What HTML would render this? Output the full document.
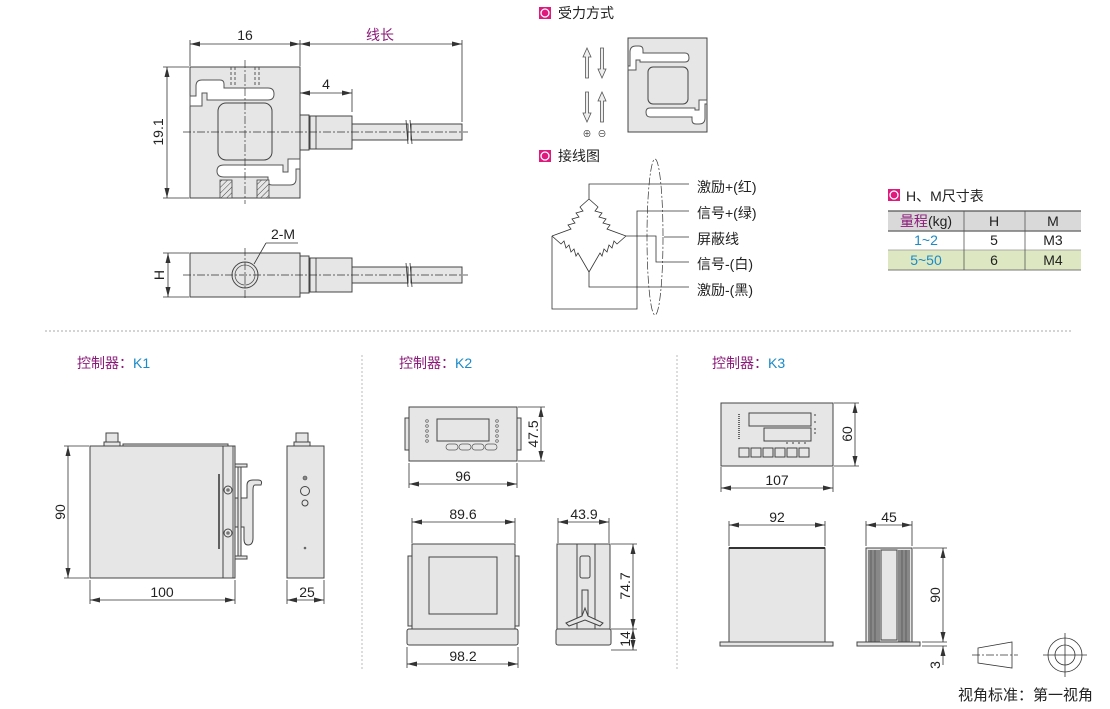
<!DOCTYPE html>
<html><head><meta charset="utf-8"><style>
html,body{margin:0;padding:0;background:#fff;}
svg{display:block;font-family:"Liberation Sans","Noto Sans CJK SC",sans-serif;}
.o{fill:#e6e6e6;stroke:#444;stroke-width:1;}
.w{fill:#fff;stroke:#555;stroke-width:1;}
.l{stroke:#333;stroke-width:0.8;fill:none;}
.c{stroke:#333;stroke-width:0.7;stroke-dasharray:8 2 2 2;fill:none;}
.t{font-size:14px;fill:#222;}
.p{fill:#8b1a7a;}
.b{fill:#1a8ac8;}
</style></head><body>
<svg width="1110" height="709" viewBox="0 0 1110 709" xmlns="http://www.w3.org/2000/svg">
<defs>
<marker id="a" viewBox="0 0 10 6" refX="10" refY="3" markerWidth="10" markerHeight="6" orient="auto-start-reverse" markerUnits="userSpaceOnUse"><path d="M0,0.5 L10,3 L0,5.5 Z" fill="#333"/></marker>
<pattern id="h" width="4" height="4" patternUnits="userSpaceOnUse" patternTransform="rotate(45)"><rect width="4" height="4" fill="#e6e6e6"/><line x1="0" y1="0" x2="0" y2="4" stroke="#444" stroke-width="1"/></pattern>
</defs>

<!-- Load cell top view -->
<rect class="o" x="190" y="67" width="110" height="131"/>
<path class="w" d="M190,106 L202,106 L202,93 L207,93 L207,100 L268,100 Q274,100 274,94 Q274,88 268,88 L224,88 L224,84 Q224,80 220,80 L202,80 Q196,80 196,86 L196,96 L190,96 Z"/>
<path class="w" d="M300,159 L288,159 L288,172 L283,172 L283,165 L224,165 Q217,165 217,171 Q217,177 224,177 L268,177 L268,181 Q268,185 272,185 L290,185 Q296,185 296,179 L296,169 L300,169 Z"/>
<rect class="o" x="218" y="103" width="54" height="57" rx="8"/>
<rect x="220" y="180" width="12" height="18" fill="url(#h)" stroke="#444" stroke-width="0.8"/>
<rect x="257" y="180" width="12" height="18" fill="url(#h)" stroke="#444" stroke-width="0.8"/>
<line x1="231" y1="67" x2="231" y2="87" stroke="#555" stroke-dasharray="3 2"/>
<line x1="235" y1="67" x2="235" y2="87" stroke="#555" stroke-dasharray="3 2"/>
<line x1="255" y1="67" x2="255" y2="87" stroke="#555" stroke-dasharray="3 2"/>
<line x1="259" y1="67" x2="259" y2="87" stroke="#555" stroke-dasharray="3 2"/>
<rect class="o" x="300" y="115" width="9" height="35"/>
<rect class="o" x="310" y="116" width="42" height="33"/>
<line class="l" x1="316" y1="116" x2="316" y2="149"/>
<rect class="o" x="352" y="124" width="56" height="16"/>
<rect class="o" x="411" y="124" width="51" height="16"/>
<line class="l" x1="406" y1="120" x2="408" y2="144"/><line class="l" x1="410" y1="120" x2="412" y2="144"/>
<line class="c" x1="183" y1="132" x2="468" y2="132"/>
<line class="c" x1="245" y1="60" x2="245" y2="204"/>
<!-- dims -->
<line class="l" x1="190" y1="40" x2="190" y2="66"/><line class="l" x1="300" y1="40" x2="300" y2="66"/><line class="l" x1="462" y1="40" x2="462" y2="122"/>
<line class="l" x1="190" y1="44" x2="300" y2="44" marker-start="url(#a)" marker-end="url(#a)"/>
<line class="l" x1="300" y1="44" x2="462" y2="44" marker-start="url(#a)" marker-end="url(#a)"/>
<text class="t" x="245" y="40" text-anchor="middle">16</text>
<text class="t p" x="380" y="40" text-anchor="middle">线长</text>
<line class="l" x1="352" y1="89" x2="352" y2="112"/>
<line class="l" x1="300" y1="93" x2="352" y2="93" marker-start="url(#a)" marker-end="url(#a)"/>
<text class="t" x="326" y="89" text-anchor="middle">4</text>
<line class="l" x1="163" y1="67" x2="189" y2="67"/><line class="l" x1="163" y1="198" x2="189" y2="198"/>
<line class="l" x1="167" y1="67" x2="167" y2="198" marker-start="url(#a)" marker-end="url(#a)"/>
<text class="t" transform="translate(163,132) rotate(-90)" text-anchor="middle">19.1</text>

<!-- side view -->
<rect class="o" x="190" y="253" width="110" height="44"/>
<circle class="o" cx="245" cy="275" r="13"/><circle cx="245" cy="275" r="10" fill="none" stroke="#555" stroke-width="0.8"/>
<rect class="o" x="300" y="256" width="9" height="37"/>
<rect class="o" x="310" y="258" width="42" height="34"/>
<line class="l" x1="316" y1="258" x2="316" y2="292"/>
<rect class="o" x="352" y="267" width="56" height="16"/>
<rect class="o" x="411" y="267" width="51" height="16"/>
<line class="l" x1="406" y1="263" x2="408" y2="287"/><line class="l" x1="410" y1="263" x2="412" y2="287"/>
<line class="c" x1="183" y1="275" x2="468" y2="275"/>
<line class="c" x1="245" y1="248" x2="245" y2="300"/>
<line class="l" x1="254" y1="264" x2="266" y2="243"/><line class="l" x1="266" y1="243" x2="298" y2="243"/>
<text class="t" x="283" y="239" text-anchor="middle">2-M</text>
<line class="l" x1="163" y1="253" x2="189" y2="253"/><line class="l" x1="163" y1="297" x2="189" y2="297"/>
<line class="l" x1="168" y1="253" x2="168" y2="297" marker-start="url(#a)" marker-end="url(#a)"/>
<text class="t" transform="translate(164,275) rotate(-90)" text-anchor="middle">H</text>

<!-- 受力方式 -->
<rect x="539" y="7" width="12" height="12" fill="#e0197d"/><circle cx="545" cy="13" r="4" fill="none" stroke="#fff" stroke-width="1.3"/>
<text class="t" x="558" y="18">受力方式</text>
<g fill="#eee" stroke="#555" stroke-width="0.8">
<path d="M587,48 L591,57 L588.5,57 L588.5,78 L585.5,78 L585.5,57 L583,57 Z"/>
<path d="M602,78 L606,69 L603.5,69 L603.5,48 L600.5,48 L600.5,69 L598,69 Z"/>
<path d="M587,122 L591,113 L588.5,113 L588.5,92 L585.5,92 L585.5,113 L583,113 Z"/>
<path d="M602,92 L606,101 L603.5,101 L603.5,122 L600.5,122 L600.5,101 L598,101 Z"/>
</g>
<text x="587" y="137" font-size="9" text-anchor="middle" fill="#333">⊕</text>
<text x="602" y="137" font-size="9" text-anchor="middle" fill="#333">⊖</text>
<rect class="o" x="628" y="38" width="79" height="94"/>
<path class="w" d="M628,70 L636,70 L636,60 L640,60 L640,62 L685,62 Q689,62 689,58 Q689,53 685,53 L643,53 L643,50 Q643,46 639,46 L636,46 Q630,46 630,52 L630,66 L628,66 Z"/>
<rect class="o" x="648" y="67" width="40" height="37" rx="5"/>
<path class="w" d="M707,100 L699,100 L699,110 L695,110 L695,108 L650,108 Q646,108 646,112 Q646,117 650,117 L692,117 L692,120 Q692,124 696,124 L699,124 Q705,124 705,118 L705,104 L707,104 Z"/>

<!-- 接线图 -->
<rect x="539" y="150" width="12" height="12" fill="#e0197d"/><circle cx="545" cy="156" r="4" fill="none" stroke="#fff" stroke-width="1.3"/>
<text class="t" x="558" y="161">接线图</text>
<g class="l" stroke-width="0.9">
<polyline points="589,199 580,207 583,211 576,213 579,217 572,219 575,223 568,225 571,229 552,236"/>
<polyline points="589,199 598,207 595,211 602,213 599,217 606,219 603,223 610,225 607,229 626,236"/>
<polyline points="552,236 561,244 564,241 566,248 569,245 571,252 574,249 576,256 578,253 589,272"/>
<polyline points="626,236 617,244 614,241 612,248 609,245 607,252 604,249 602,256 600,253 589,272"/>
<polyline points="589,199 589,184 689,184"/>
<polyline points="689,211 637,211 637,309 552,309 552,236"/>
<polyline points="626,236 656,236 656,262 689,262"/>
<line x1="664" y1="237" x2="689" y2="237"/>
<polyline points="589,272 589,287 689,287"/>
</g>
<ellipse cx="655" cy="237" rx="8" ry="78" class="c"/>
<text class="t" x="697" y="192">激励+(红)</text>
<text class="t" x="697" y="218">信号+(绿)</text>
<text class="t" x="697" y="244">屏蔽线</text>
<text class="t" x="697" y="269">信号-(白)</text>
<text class="t" x="697" y="295">激励-(黑)</text>

<!-- table -->
<rect x="888" y="189" width="12" height="12" fill="#e0197d"/><circle cx="894" cy="195" r="4" fill="none" stroke="#fff" stroke-width="1.3"/>
<text class="t" x="906" y="201">H、M尺寸表</text>
<rect x="888" y="211" width="193" height="20" fill="#d9d9d9"/>
<rect x="888" y="250" width="193" height="20" fill="#dde8c2"/>
<line x1="888" y1="211" x2="1081" y2="211" stroke="#555" stroke-width="1.2"/>
<line x1="888" y1="231" x2="1081" y2="231" stroke="#777" stroke-width="1.5"/>
<line x1="888" y1="250" x2="1081" y2="250" stroke="#999" stroke-width="0.8"/>
<line x1="888" y1="270" x2="1081" y2="270" stroke="#777" stroke-width="1"/>
<line x1="964" y1="211" x2="964" y2="270" stroke="#555" stroke-width="0.8"/>
<line x1="1025" y1="211" x2="1025" y2="270" stroke="#555" stroke-width="0.8"/>
<text class="t" x="926" y="226" text-anchor="middle"><tspan class="p">量程</tspan>(kg)</text>
<text class="t" x="994" y="226" text-anchor="middle">H</text>
<text class="t" x="1053" y="226" text-anchor="middle">M</text>
<text class="t b" x="926" y="245" text-anchor="middle">1~2</text>
<text class="t" x="994" y="245" text-anchor="middle">5</text>
<text class="t" x="1053" y="245" text-anchor="middle">M3</text>
<text class="t b" x="926" y="265" text-anchor="middle">5~50</text>
<text class="t" x="994" y="265" text-anchor="middle">6</text>
<text class="t" x="1053" y="265" text-anchor="middle">M4</text>

<!-- separators -->
<line x1="45" y1="331" x2="1072" y2="331" stroke="#aaa" stroke-dasharray="2 2"/>
<line x1="362" y1="355" x2="362" y2="670" stroke="#bbb" stroke-dasharray="2 2"/>
<line x1="677" y1="355" x2="677" y2="670" stroke="#bbb" stroke-dasharray="2 2"/>
<text class="t" x="77" y="368"><tspan class="p">控制器：</tspan><tspan class="b">K1</tspan></text>
<text class="t" x="399" y="368"><tspan class="p">控制器：</tspan><tspan class="b">K2</tspan></text>
<text class="t" x="712" y="368"><tspan class="p">控制器：</tspan><tspan class="b">K3</tspan></text>

<!-- K1 -->
<rect class="o" x="106" y="433" width="12" height="11"/><rect class="o" x="104" y="442" width="16" height="4"/>
<rect class="o" x="123" y="444" width="105" height="2"/>
<rect class="o" x="90" y="446" width="133" height="132"/>
<rect class="o" x="223" y="446" width="12" height="132"/>
<line class="l" x1="233" y1="446" x2="233" y2="578"/>
<line x1="219" y1="474" x2="219" y2="549" stroke="#333" stroke-width="1.5"/>
<circle class="o" cx="228" cy="490" r="4"/><circle cx="228" cy="490" r="1.8" fill="#777"/>
<circle class="o" cx="228" cy="533" r="4"/><circle cx="228" cy="533" r="1.8" fill="#777"/>
<rect class="o" x="235" y="498" width="4" height="29"/>
<path class="o" d="M239,498 L247,498 L247,485 Q247,480 253,480 L258,480 Q263,480 261,485 L255,485 Q253,485 253,490 L253,538 Q253,545 248,545 Q244,545 244,539 L244,527 L239,527 Z"/>
<rect class="o" x="235" y="464" width="12" height="3"/><rect class="o" x="235" y="556" width="12" height="3"/>
<rect class="o" x="238" y="467" width="3" height="89"/>
<line class="l" x1="64" y1="446" x2="89" y2="446"/><line class="l" x1="64" y1="578" x2="89" y2="578"/>
<line class="l" x1="68" y1="446" x2="68" y2="578" marker-start="url(#a)" marker-end="url(#a)"/>
<text class="t" transform="translate(65,512) rotate(-90)" text-anchor="middle">90</text>
<line class="l" x1="90" y1="580" x2="90" y2="604"/><line class="l" x1="235" y1="580" x2="235" y2="604"/>
<line class="l" x1="90" y1="600" x2="235" y2="600" marker-start="url(#a)" marker-end="url(#a)"/>
<text class="t" x="162" y="597" text-anchor="middle">100</text>
<rect class="o" x="296" y="433" width="12" height="11"/><rect class="o" x="294" y="442" width="16" height="4"/>
<rect class="o" x="287" y="446" width="37" height="132"/>
<circle cx="305" cy="478" r="2" fill="#888" stroke="#444" stroke-width="0.6"/>
<circle class="o" cx="305" cy="491" r="4.5"/><circle class="o" cx="305" cy="503" r="3"/>
<circle cx="305" cy="548" r="1.3" fill="#666"/>
<line class="l" x1="287" y1="580" x2="287" y2="604"/><line class="l" x1="324" y1="580" x2="324" y2="604"/>
<line class="l" x1="287" y1="600" x2="324" y2="600" marker-start="url(#a)" marker-end="url(#a)"/>
<text class="t" x="307" y="597" text-anchor="middle">25</text>

<!-- K2 -->
<rect class="o" x="405" y="418" width="4" height="32"/><rect class="o" x="517" y="418" width="4" height="32"/>
<rect class="o" x="409" y="407" width="108" height="54"/>
<rect class="o" x="437" y="419" width="52" height="22"/>
<g fill="none" stroke="#555" stroke-width="0.7">
<circle cx="427" cy="421" r="1.3"/><circle cx="427" cy="426" r="1.3"/><circle cx="427" cy="431" r="1.3"/><circle cx="427" cy="436" r="1.3"/><circle cx="427" cy="441" r="1.3"/>
<circle cx="497" cy="421" r="1.3"/><circle cx="497" cy="426" r="1.3"/><circle cx="497" cy="431" r="1.3"/><circle cx="497" cy="436" r="1.3"/><circle cx="497" cy="441" r="1.3"/>
<rect x="446" y="444" width="12" height="6" rx="3"/><rect x="459" y="444" width="12" height="6" rx="3"/><rect x="472" y="444" width="12" height="6" rx="3"/><rect x="485" y="444" width="12" height="6" rx="3"/>
</g>
<line class="l" x1="518" y1="407" x2="545" y2="407"/><line class="l" x1="518" y1="461" x2="545" y2="461"/>
<line class="l" x1="541" y1="407" x2="541" y2="461" marker-start="url(#a)" marker-end="url(#a)"/>
<text class="t" transform="translate(538,434) rotate(-90)" text-anchor="middle">47.5</text>
<line class="l" x1="409" y1="463" x2="409" y2="488"/><line class="l" x1="517" y1="463" x2="517" y2="488"/>
<line class="l" x1="409" y1="484" x2="517" y2="484" marker-start="url(#a)" marker-end="url(#a)"/>
<text class="t" x="463" y="481" text-anchor="middle">96</text>

<rect class="o" x="408" y="556" width="4" height="70"/><rect class="o" x="515" y="556" width="4" height="70"/>
<rect class="o" x="412" y="544" width="103" height="86"/>
<rect class="o" x="429" y="557" width="68" height="57"/>
<rect class="o" x="407" y="629" width="111" height="16" rx="2"/>
<line class="l" x1="412" y1="518" x2="412" y2="543"/><line class="l" x1="515" y1="518" x2="515" y2="543"/>
<line class="l" x1="412" y1="522" x2="515" y2="522" marker-start="url(#a)" marker-end="url(#a)"/>
<text class="t" x="463" y="519" text-anchor="middle">89.6</text>
<line class="l" x1="407" y1="647" x2="407" y2="668"/><line class="l" x1="518" y1="647" x2="518" y2="668"/>
<line class="l" x1="407" y1="664" x2="518" y2="664" marker-start="url(#a)" marker-end="url(#a)"/>
<text class="t" x="463" y="661" text-anchor="middle">98.2</text>

<rect class="o" x="557" y="544" width="53" height="86"/>
<rect class="o" x="577" y="544" width="18" height="86"/>
<rect class="o" x="580" y="556" width="10" height="22" rx="2"/>
<rect class="o" x="582" y="590" width="6" height="27"/>
<path class="o" d="M566,623 L582,616 L585,608 L588,616 L603,623 L600,626 L585,620 L569,626 Z"/>
<rect class="o" x="556" y="629" width="55" height="16" rx="2"/>
<line class="l" x1="558" y1="518" x2="558" y2="543"/><line class="l" x1="609" y1="518" x2="609" y2="543"/>
<line class="l" x1="558" y1="522" x2="609" y2="522" marker-start="url(#a)" marker-end="url(#a)"/>
<text class="t" x="584" y="519" text-anchor="middle">43.9</text>
<line class="l" x1="611" y1="544" x2="637" y2="544"/><line class="l" x1="611" y1="629" x2="637" y2="629"/><line class="l" x1="611" y1="650" x2="637" y2="650"/>
<line class="l" x1="633" y1="544" x2="633" y2="629" marker-start="url(#a)" marker-end="url(#a)"/>
<line class="l" x1="633" y1="629" x2="633" y2="650" marker-start="url(#a)" marker-end="url(#a)"/>
<text class="t" transform="translate(630,586) rotate(-90)" text-anchor="middle">74.7</text>
<text class="t" transform="translate(630,639) rotate(-90)" text-anchor="middle">14</text>

<!-- K3 -->
<rect class="o" x="721" y="403" width="112" height="63"/>
<rect class="o" x="749" y="413" width="62" height="13"/>
<rect class="o" x="764" y="428" width="47" height="13"/>
<line x1="739" y1="414" x2="739" y2="440" stroke="#666" stroke-width="2" stroke-dasharray="1 1"/>
<g fill="#777"><circle cx="815" cy="415" r="1"/><circle cx="815" cy="422" r="1"/><circle cx="815" cy="429" r="1"/><circle cx="815" cy="433" r="1"/><circle cx="787" cy="443" r="1"/><circle cx="793" cy="443" r="1"/><circle cx="799" cy="443" r="1"/><circle cx="805" cy="443" r="1"/></g>
<g class="o"><rect x="739" y="448" width="10" height="9"/><rect x="751" y="448" width="10" height="9"/><rect x="763" y="448" width="10" height="9"/><rect x="775" y="448" width="10" height="9"/><rect x="787" y="448" width="10" height="9"/><rect x="799" y="448" width="10" height="9"/></g>
<line class="l" x1="834" y1="403" x2="859" y2="403"/><line class="l" x1="834" y1="466" x2="859" y2="466"/>
<line class="l" x1="855" y1="403" x2="855" y2="466" marker-start="url(#a)" marker-end="url(#a)"/>
<text class="t" transform="translate(852,434) rotate(-90)" text-anchor="middle">60</text>
<line class="l" x1="721" y1="467" x2="721" y2="492"/><line class="l" x1="833" y1="467" x2="833" y2="492"/>
<line class="l" x1="721" y1="488" x2="833" y2="488" marker-start="url(#a)" marker-end="url(#a)"/>
<text class="t" x="777" y="485" text-anchor="middle">107</text>

<rect class="o" x="729" y="548" width="96" height="94"/>
<line x1="729" y1="548" x2="825" y2="548" stroke="#333" stroke-width="2"/>
<rect class="o" x="720" y="642" width="113" height="4"/>
<line class="l" x1="729" y1="521" x2="729" y2="546"/><line class="l" x1="825" y1="521" x2="825" y2="546"/>
<line class="l" x1="729" y1="525" x2="825" y2="525" marker-start="url(#a)" marker-end="url(#a)"/>
<text class="t" x="777" y="522" text-anchor="middle">92</text>

<rect class="o" x="866" y="548" width="46" height="94"/>
<rect x="868" y="550" width="12" height="92" fill="#888"/><rect x="898" y="550" width="12" height="92" fill="#888"/>
<g stroke="#444" stroke-width="0.6"><line x1="871" y1="550" x2="871" y2="642"/><line x1="875" y1="550" x2="875" y2="642"/><line x1="902" y1="550" x2="902" y2="642"/><line x1="906" y1="550" x2="906" y2="642"/></g>
<rect class="o" x="881" y="550" width="16" height="90"/>
<rect class="o" x="857" y="642" width="63" height="4"/>
<line class="l" x1="866" y1="521" x2="866" y2="546"/><line class="l" x1="912" y1="521" x2="912" y2="546"/>
<line class="l" x1="866" y1="525" x2="912" y2="525" marker-start="url(#a)" marker-end="url(#a)"/>
<text class="t" x="889" y="522" text-anchor="middle">45</text>
<line class="l" x1="913" y1="548" x2="947" y2="548"/><line class="l" x1="922" y1="642" x2="947" y2="642"/><line class="l" x1="922" y1="646" x2="947" y2="646"/>
<line class="l" x1="943" y1="548" x2="943" y2="642" marker-start="url(#a)" marker-end="url(#a)"/>
<line class="l" x1="943" y1="665" x2="943" y2="646" marker-end="url(#a)"/>
<text class="t" transform="translate(940,595) rotate(-90)" text-anchor="middle">90</text>
<text class="t" transform="translate(940,665) rotate(-90)" text-anchor="middle">3</text>

<!-- projection symbol -->
<path class="l" d="M978,648 L1012,642 L1012,668 L978,663 Z"/>
<line class="c" x1="972" y1="655" x2="1018" y2="655"/>
<circle class="l" cx="1065" cy="655" r="17"/><circle class="l" cx="1065" cy="655" r="10"/>
<line class="l" x1="1043" y1="655" x2="1087" y2="655"/><line class="l" x1="1065" y1="633" x2="1065" y2="677"/>
<text x="958" y="700" font-size="15" fill="#222">视角标准：第一视角</text>
</svg>
</body></html>
